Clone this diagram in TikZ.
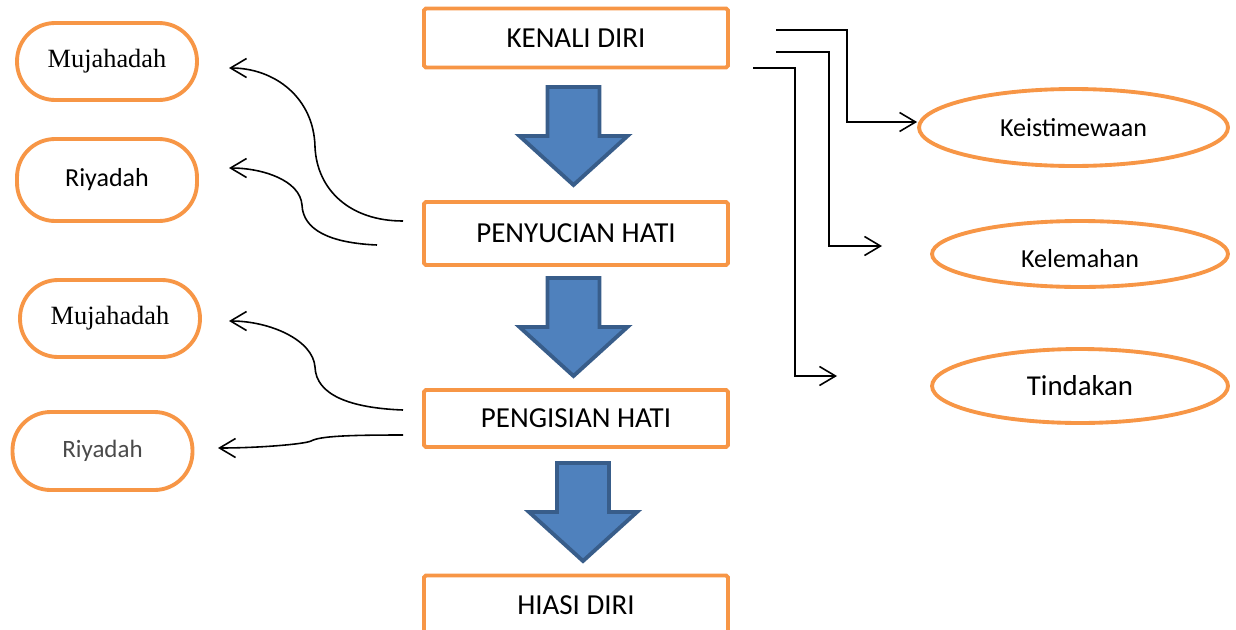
\documentclass[tikz,border=0pt]{standalone}
\usepackage{fontspec}
\setmainfont{Carlito}
\newfontfamily\serifface{Liberation Serif}
\usetikzlibrary{shapes.geometric, arrows.meta}
\definecolor{myorange}{HTML}{F79646}
\definecolor{myblue}{HTML}{4F81BD}
\definecolor{mydarkblue}{HTML}{385D8A}
\definecolor{mygray}{HTML}{4A4A4A}
\tikzset{
	stepbox/.style={
			draw=myorange,
			line width=2.2pt,
			fill=white,
			rounded corners=1pt,
			minimum width=6.08cm,
			minimum height=1.18cm,
			inner sep=0pt,
			font=\fontsize{16.5}{18}\selectfont
		},
	pillnode/.style={
			draw=myorange,
			line width=2.2pt,
			fill=white,
			rounded corners=0.76cm,
			minimum width=3.6cm,
			minimum height=1.54cm,
			inner sep=0pt,
			font=\fontsize{14.8}{18}\selectfont
		},
	ovalnode/.style={
			ellipse,
			draw=myorange,
			line width=2.2pt,
			fill=white,
			inner sep=0pt,
			font=\fontsize{14.8}{18}\selectfont
		},
	link/.style={
			black,
			line width=0.9pt,
			-{Straight Barb[length=3.2mm,width=3.8mm]}
		},
	blockarrow/.style={
			fill=myblue,
			draw=mydarkblue,
			line width=2.2pt,
			line join=miter
		}
}

\begin{document}
\begin{tikzpicture}[x=0.02cm, y=-0.02cm]
\clip (0,0) rectangle (1236,629);

% centre column
\node[stepbox] (kenali) at (576,38)  { KENALI DIRI };
\node[stepbox, minimum height=1.26cm] (suci) at (576,233.5)  { PENYUCIAN HATI };
\node[stepbox, minimum height=1.14cm] (isi) at (576,418.5)  { PENGISIAN HATI };
\node[stepbox] (hias) at (576,605)  { HIASI DIRI };

\foreach \ax/\ay in {573.5/87, 573.5/278, 583/463}
  \draw[blockarrow] (\ax-26,\ay) -- (\ax+26,\ay) -- (\ax+26,\ay+49) -- (\ax+54,\ay+49)
    -- (\ax,\ay+98) -- (\ax-54,\ay+49) -- (\ax-26,\ay+49) -- cycle;

% left side
\node[pillnode, font=\serifface\fontsize{15}{18}\selectfont] (muj1) at (107,61.5)  { Mujahadah };
\node[pillnode, minimum height=1.64cm] (riy1) at (107,180)  { Riyadah };
\node[pillnode, font=\serifface\fontsize{15}{18}\selectfont] (muj2) at (110,318.5)  { Mujahadah };
\node[pillnode, minimum height=1.56cm, text=mygray, font=\fontsize{14.2}{18}\selectfont] (riy2) at (102.5,451)  { Riyadah };

\coordinate (c1a) at (403,221);
\coordinate (c1b) at (229,68);
\coordinate (c2a) at (377,245);
\coordinate (c2b) at (229,168);
\coordinate (c3a) at (403,410);
\coordinate (c3b) at (229,321);
\coordinate (c4a) at (403,435);
\coordinate (c4b) at (218,448);

\draw[link] (c1a) .. controls (350,221) and (317,190) .. (315,147)
  .. controls (314,98) and (275,68) .. (c1b);
\draw[link] (c2a) .. controls (330,243) and (303,230) .. (302,205)
  .. controls (300,180) and (262,168) .. (c2b);
\draw[link] (c3a) .. controls (350,408) and (316,395) .. (315,367)
  .. controls (313,340) and (270,321) .. (c3b);
\draw[link] (c4a) .. controls (350,435) and (320,436) .. (311,441)
  .. controls (305,444) and (260,448) .. (c4b);

% right side
\node[ovalnode, minimum width=6.18cm, minimum height=1.54cm] (keis) at (1073.5,127.5)  { Keistimewaan };
\node[ovalnode, minimum width=5.92cm, minimum height=1.32cm, text height=0.6cm, text depth=0.08cm] (lemah) at (1080,254)  { Kelemahan };
\node[ovalnode, minimum width=5.92cm, minimum height=1.48cm, font=\fontsize{16.4}{18}\selectfont] (tindak) at (1080,386)  { Tindakan };

\coordinate (k1) at (776,30);
\coordinate (k1v) at (847,122);
\coordinate (k2) at (776,52);
\coordinate (k2v) at (829,246);
\coordinate (k3) at (753,68);
\coordinate (k3v) at (795,376);

\draw[link] (k1) -| (k1v) -- (k1v -| keis.west);
\draw[link] (k2) -| (k2v) -- ++(53,0);
\draw[link] (k3) -| (k3v) -- ++(42,0);
\end{tikzpicture}
\end{document}
